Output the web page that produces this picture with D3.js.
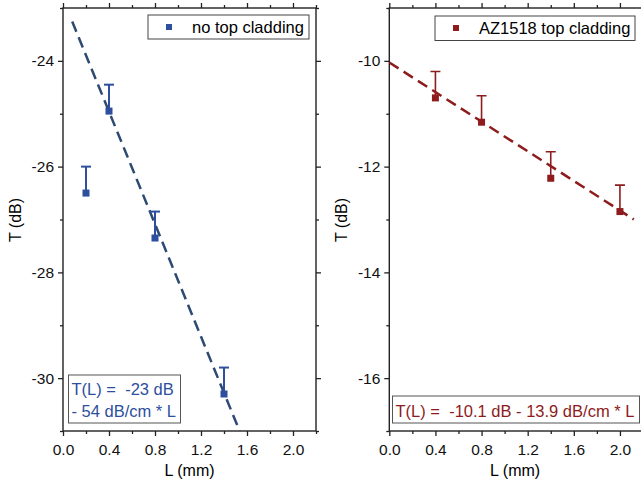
<!DOCTYPE html>
<html>
<head>
<meta charset="utf-8">
<script src="https://d3js.org/d3.v7.min.js"></script>
<style>
  body { margin: 0; background: #fff; }
  text { font-family: "Liberation Sans", Arial, sans-serif; }
</style>
</head>
<body>
<div id="chart"></div>
<script>
// data
var lenNoClad = [0.2, 0.4, 0.8, 1.4];
var tNoClad = [-26.5, -24.95, -27.35, -30.3];
var errNoClad = [0.5, 0.5, 0.5, 0.5];

var lenAZ = [0.4, 0.8, 1.4, 2.0];
var tAZ = [-10.7, -11.16, -12.22, -12.85];
var errAZ = [0.5, 0.5, 0.5, 0.5];

// fitted lines (intercept dB, slope dB/mm, L range)
var fitNoClad = [-22.83, -5.32, 0.08, 2.2];
var fitAZ = [-10.03, -1.40, 0.0, 2.12];

var xTicks = [0.0, 0.4, 0.8, 1.2, 1.6, 2.0];
var xMinor = [0.2, 0.6, 1.0, 1.4, 1.8, 2.2];
var yTicksLeft = [-24, -26, -28, -30];
var yMinorLeft = [-23, -25, -27, -29, -31];
var yTicksRight = [-10, -12, -14, -16];
var yMinorRight = [-9, -11, -13, -15, -17];

var svg = d3.select("#chart").append("svg")
    .attr("width", 641)
    .attr("height", 489);

function panel(opt) {
    var x = d3.scaleLinear().domain([0, 2.2]).range([opt.left, opt.right]);
    var y = d3.scaleLinear().domain(opt.yDomain).range([431, 8]);
    var g = svg.append("g");

    g.append("clipPath").attr("id", opt.id)
        .append("rect")
        .attr("x", opt.left).attr("y", 8)
        .attr("width", opt.right - opt.left).attr("height", 423);

    // axes, ticks outward on all four sides
    function addAxis(axis, tx, ty, vals, size, labels) {
        var a = g.append("g")
            .attr("transform", "translate(" + tx + "," + ty + ")")
            .call(axis.tickValues(vals).tickSize(size).tickSizeOuter(0)
                .tickFormat(labels ? d3.format(labels) : ""));
        a.select(".domain").remove();
        a.selectAll("line").attr("stroke", "#222").attr("stroke-width", 1.3);
        a.selectAll("text").attr("font-size", "15.5px").attr("fill", "#111");
        return a;
    }
    addAxis(d3.axisBottom(x), 0, 431, xTicks, 5, ".1f").selectAll("text").attr("dy", "1.05em");
    addAxis(d3.axisBottom(x), 0, 431, xMinor, 3, null);
    addAxis(d3.axisTop(x), 0, 8, xTicks, 5, null);
    addAxis(d3.axisTop(x), 0, 8, xMinor, 3, null);
    addAxis(d3.axisLeft(y), opt.left, 0, opt.yTicks, 5, "d").selectAll("text")
        .attr("x", -9).text(function(d) { return "-" + Math.abs(d); });
    addAxis(d3.axisLeft(y), opt.left, 0, opt.yMinor, 3, null);
    addAxis(d3.axisRight(y), opt.right, 0, opt.yTicks, 5, null);
    addAxis(d3.axisRight(y), opt.right, 0, opt.yMinor, 3, null);

    g.append("rect")
        .attr("x", opt.left).attr("y", 8)
        .attr("width", opt.right - opt.left).attr("height", 423)
        .attr("fill", "none").attr("stroke", "#222").attr("stroke-width", 1.4);

    // axis titles
    g.append("text")
        .attr("x", (opt.left + opt.right) / 2 - (opt.right > 641 ? 1 : 0))
        .attr("y", 476)
        .attr("text-anchor", "middle")
        .attr("font-size", "16px")
        .text("L (mm)");
    g.append("text")
        .attr("transform", "translate(" + (opt.left - 42) + ",220) rotate(-90)")
        .attr("text-anchor", "middle")
        .attr("font-size", "16px")
        .text("T (dB)");

    var plot = g.append("g").attr("clip-path", "url(#" + opt.id + ")");

    // fitted dashed line
    var fit = opt.fit;
    var line = d3.line().x(function(d) { return x(d); })
        .y(function(d) { return y(fit[0] + fit[1] * d); });
    plot.append("path")
        .datum([fit[2], fit[3]])
        .attr("d", line)
        .attr("fill", "none")
        .attr("stroke", opt.lineColor)
        .attr("stroke-width", 2.5)
        .attr("stroke-dasharray", "11,6");

    // upper error bars
    var idx = d3.range(opt.len.length);
    plot.selectAll(".err").data(idx).enter().append("line")
        .attr("x1", function(i) { return x(opt.len[i]); })
        .attr("x2", function(i) { return x(opt.len[i]); })
        .attr("y1", function(i) { return y(opt.t[i]); })
        .attr("y2", function(i) { return y(opt.t[i] + opt.err[i]); })
        .attr("stroke", opt.color).attr("stroke-width", opt.errWidth);
    plot.selectAll(".cap").data(idx).enter().append("line")
        .attr("x1", function(i) { return x(opt.len[i]) - 5; })
        .attr("x2", function(i) { return x(opt.len[i]) + 5; })
        .attr("y1", function(i) { return y(opt.t[i] + opt.err[i]); })
        .attr("y2", function(i) { return y(opt.t[i] + opt.err[i]); })
        .attr("stroke", opt.color).attr("stroke-width", opt.errWidth);
    plot.selectAll(".pt").data(idx).enter().append("rect")
        .attr("x", function(i) { return x(opt.len[i]) - 3.5; })
        .attr("y", function(i) { return y(opt.t[i]) - 3.5; })
        .attr("width", 7).attr("height", 7)
        .attr("fill", opt.color);

    // legend
    var lg = opt.legend;
    g.append("rect")
        .attr("x", lg[0]).attr("y", lg[1]).attr("width", lg[2]).attr("height", lg[3])
        .attr("fill", "#fff").attr("stroke", "#444").attr("stroke-width", 1);
    g.append("rect")
        .attr("x", lg[0] + 18).attr("y", lg[1] + 9).attr("width", 6).attr("height", 6)
        .attr("fill", opt.color);
    g.append("text")
        .attr("x", lg[0] + 44).attr("y", lg[1] + 18)
        .attr("font-size", "16.5px")
        .text(opt.name);

    // equation box
    var eq = opt.eqBox;
    g.append("rect")
        .attr("x", eq[0]).attr("y", eq[1]).attr("width", eq[2]).attr("height", eq[3])
        .attr("fill", "#fff").attr("stroke", "#555").attr("stroke-width", 1);
    opt.eqLines.forEach(function(s, k) {
        g.append("text")
            .attr("x", eq[0] + 3)
            .attr("y", eq[1] + eq[3] - 6.5 - (opt.eqLines.length - 1 - k) * 21.7)
            .attr("font-size", "16.5px")
            .attr("fill", opt.color)
            .style("white-space", "pre")
            .text(s);
    });
}

panel({
    id: "clipL", left: 63, right: 316, yDomain: [-31, -23],
    yTicks: yTicksLeft, yMinor: yMinorLeft,
    len: lenNoClad, t: tNoClad, err: errNoClad, fit: fitNoClad,
    color: "#2d4f9e", lineColor: "#2c4a72", errWidth: 2,
    name: "no top cladding", legend: [148, 15, 161, 24],
    eqBox: [68.5, 375, 112, 48],
    eqLines: ["T(L) =  -23 dB", "- 54 dB/cm * L"]
});

panel({
    id: "clipR", left: 389.3, right: 643, yDomain: [-17, -9],
    yTicks: yTicksRight, yMinor: yMinorRight,
    len: lenAZ, t: tAZ, err: errAZ, fit: fitAZ,
    color: "#8e1c1c", lineColor: "#8e1c1c", errWidth: 1.6,
    name: "AZ1518 top cladding", legend: [435, 16, 200, 24.5],
    eqBox: [392.5, 396, 247, 27],
    eqLines: ["T(L) =  -10.1 dB - 13.9 dB/cm * L"]
});
</script>
</body>
</html>
